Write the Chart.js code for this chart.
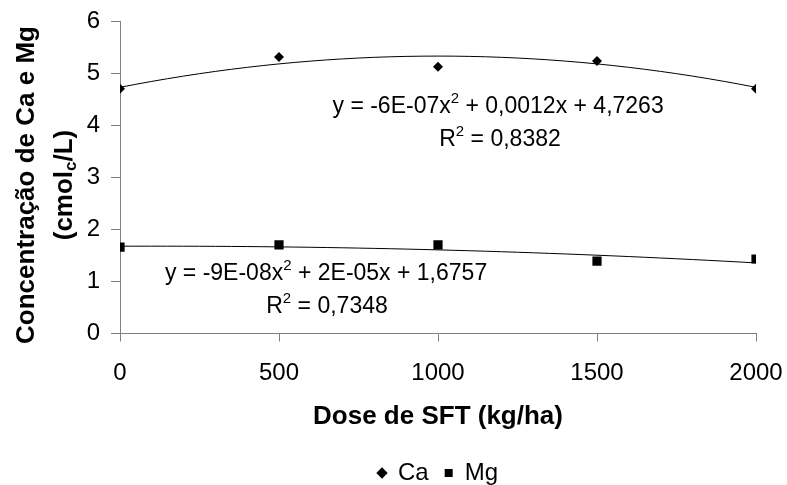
<!DOCTYPE html>
<html>
<head>
<meta charset="utf-8">
<script src="https://cdn.jsdelivr.net/npm/chart.js@4"></script>
<style>
  html, body { margin: 0; padding: 0; background: #fff; }
  #wrap { width: 787px; height: 485px; }
</style>
</head>
<body>
<div id="wrap"><canvas id="chart"></canvas></div>
<script>
// values
var doses = [0, 500, 1000, 1500, 2000];
var caValues = [4.70, 5.31, 5.12, 5.23, 4.70];
var mgValues = [1.66, 1.70, 1.70, 1.39, 1.43];
// trendline coefficients as printed on the chart (a x^2 + b x + c)
var caCoef = [-6e-7, 0.0012, 4.7263];
var mgCoef = [-9e-8, 2e-5, 1.6757];
var xTicks = [0, 500, 1000, 1500, 2000];
var yTicks = [0, 1, 2, 3, 4, 5, 6];

var FONT = "'Liberation Sans', Arial, sans-serif";
var axisGray = "#808080";

function points(xs, ys) {
    return xs.map(function (x, i) { return { x: x, y: ys[i] }; });
}

function trend(coef) {
    var pts = [];
    for (var x = 0; x <= 2000; x += 50) {
        pts.push({ x: x, y: coef[0] * x * x + coef[1] * x + coef[2] });
    }
    return pts;
}

// text with superscripts, centred on a data position
function drawRich(ctx, parts, cx, cy, size) {
    var w = 0;
    parts.forEach(function (p) {
        ctx.font = (p.sup ? Math.round(size * 0.65) : size) + "px " + FONT;
        p.w = ctx.measureText(p.t).width;
        w += p.w;
    });
    var x = cx - w / 2;
    ctx.textBaseline = "middle";
    ctx.textAlign = "left";
    parts.forEach(function (p) {
        ctx.font = (p.sup ? Math.round(size * 0.65) : size) + "px " + FONT;
        ctx.fillText(p.t, x, p.sup ? cy - size * 0.35 : cy);
        x += p.w;
    });
}

var labelsPlugin = {
    id: "equations",
    afterDatasetsDraw: function (chart) {
        var ctx = chart.ctx;
        var xs = chart.scales.x, ys = chart.scales.y;
        ctx.save();
        ctx.fillStyle = "#000";
        drawRich(ctx, [{ t: "y = -6E-07x" }, { t: "2", sup: true }, { t: " + 0,0012x + 4,7263" }],
            xs.getPixelForValue(1189), ys.getPixelForValue(4.36), 23);
        drawRich(ctx, [{ t: "R" }, { t: "2", sup: true }, { t: " = 0,8382" }],
            xs.getPixelForValue(1195), ys.getPixelForValue(3.72), 23);
        drawRich(ctx, [{ t: "y = -9E-08x" }, { t: "2", sup: true }, { t: " + 2E-05x + 1,6757" }],
            xs.getPixelForValue(648), ys.getPixelForValue(1.14), 23);
        drawRich(ctx, [{ t: "R" }, { t: "2", sup: true }, { t: " = 0,7348" }],
            xs.getPixelForValue(651), ys.getPixelForValue(0.51), 23);

        // y axis title (two lines, subscript c)
        var cy = 185;
        ctx.translate(0, cy);
        ctx.rotate(-Math.PI / 2);
        ctx.textBaseline = "middle";
        ctx.textAlign = "center";
        ctx.font = "bold 26px " + FONT;
        ctx.fillText("Concentração de Ca e Mg", 0, 27);
        var parts = [{ t: "(cmol" }, { t: "c", sub: true }, { t: "/L)" }];
        var w = 0;
        parts.forEach(function (p) {
            ctx.font = "bold " + (p.sub ? 17 : 26) + "px " + FONT;
            p.w = ctx.measureText(p.t).width;
            w += p.w;
        });
        var x = -w / 2;
        ctx.textAlign = "left";
        parts.forEach(function (p) {
            ctx.font = "bold " + (p.sub ? 17 : 26) + "px " + FONT;
            ctx.fillText(p.t, x, p.sub ? 71 : 65);
            x += p.w;
        });
        ctx.restore();
    }
};

new Chart(document.getElementById("chart"), {
    type: "scatter",
    data: {
        datasets: [
            {
                label: "Ca",
                data: points(doses, caValues),
                pointStyle: "rectRot",
                pointRadius: 5,
                backgroundColor: "#000",
                borderColor: "#000",
                borderWidth: 0,
            },
            {
                label: "Mg",
                data: points(doses, mgValues),
                pointStyle: "rect",
                pointRadius: 6.5,
                backgroundColor: "#000",
                borderColor: "#000",
                borderWidth: 0,
            },
            {
                label: "",
                data: trend(caCoef),
                showLine: true,
                pointRadius: 0,
                borderColor: "#000",
                borderWidth: 1,
            },
            {
                label: "",
                data: trend(mgCoef),
                showLine: true,
                pointRadius: 0,
                borderColor: "#000",
                borderWidth: 1,
            },
        ],
    },
    options: {
        responsive: true,
        maintainAspectRatio: false,
        animation: false,
        layout: { padding: { left: 0, top: 21, right: 31, bottom: -10 } },
        scales: {
            x: {
                type: "linear",
                min: 0,
                max: 2000,
                afterBuildTicks: function (scale) {
                    scale.ticks = xTicks.map(function (v) { return { value: v }; });
                },
                afterFit: function (scale) {
                    scale.height = 111.5;
                    scale.paddingLeft = 0;
                    scale.paddingRight = 0;
                },
                grid: { drawOnChartArea: false, tickLength: 8, color: axisGray },
                border: { color: axisGray },
                ticks: {
                    padding: 17.5,
                    color: "#000",
                    font: { family: FONT, size: 24 },
                    callback: function (v) { return String(v); },
                },
                title: {
                    display: true,
                    text: "Dose de SFT (kg/ha)",
                    color: "#000",
                    padding: { top: 12.5, bottom: 12.5 },
                    font: { family: FONT, size: 26, weight: "bold" },
                },
            },
            y: {
                min: 0,
                max: 6,
                afterBuildTicks: function (scale) {
                    scale.ticks = yTicks.map(function (v) { return { value: v }; });
                },
                afterFit: function (scale) {
                    scale.width = 120;
                    scale.paddingTop = 0;
                    scale.paddingBottom = 0;
                },
                grid: { drawOnChartArea: false, tickLength: 9, color: axisGray },
                border: { color: axisGray },
                ticks: { padding: 11, color: "#000", font: { family: FONT, size: 24 } },
            },
        },
        plugins: {
            legend: {
                position: "bottom",
                fullSize: false,
                labels: {
                    usePointStyle: true,
                    boxHeight: 8,
                    boxWidth: 8,
                    padding: 16,
                    color: "#000",
                    font: { family: FONT, size: 24 },
                    filter: function (item) { return item.text !== ""; },
                },
            },
            tooltip: { enabled: false },
        },
    },
    plugins: [labelsPlugin],
});
</script>
</body>
</html>
